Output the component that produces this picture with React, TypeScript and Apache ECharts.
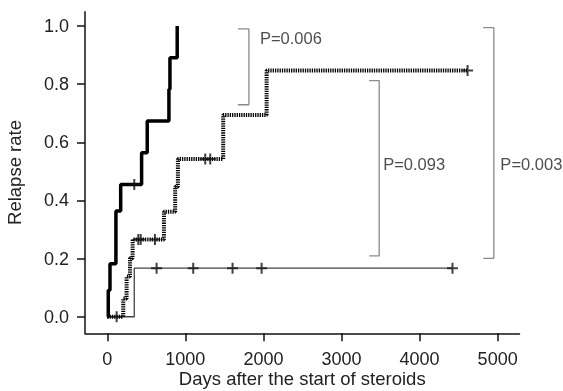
import React, { useEffect, useRef } from "react";
import * as echarts from "echarts";

// Group A (thick solid line)
const thickTimes = [0, 13, 35, 111, 172, 440, 512, 790, 803, 896];
const thickRates = [0, 0.091, 0.182, 0.364, 0.455, 0.564, 0.673, 0.782, 0.891, 1.0];
const thickCensorTimes = [346];
const thickCensorRates = [0.455];

// Group B (dotted line)
const dotTimes = [0, 205, 248, 291, 325, 726, 870, 905, 1485, 2041, 4615];
const dotRates = [0, 0.063, 0.138, 0.201, 0.266, 0.361, 0.447, 0.542, 0.694, 0.847, 0.847];
const dotCensorTimes = [120, 397, 428, 611, 1255, 1319, 4615];
const dotCensorRates = [0, 0.266, 0.266, 0.266, 0.542, 0.542, 0.847];

// Group C (thin line)
const thinTimes = [0, 346, 4422];
const thinRates = [0, 0.167, 0.167];
const thinCensorTimes = [632, 1101, 1605, 1977, 4422];
const thinCensorRates = [0.167, 0.167, 0.167, 0.167, 0.167];

// Axis ticks
const xTicks = [0, 1000, 2000, 3000, 4000, 5000];
const yTicks = [0, 0.2, 0.4, 0.6, 0.8, 1.0];

// Comparison brackets (data coordinates) and p-value labels
const bracketX = [1814, 3483, 4951];
const bracketLeftX = [1673, 3355, 4814];
const bracketTop = [0.99, 0.812, 0.994];
const bracketBottom = [0.729, 0.209, 0.201];
const pLabels = ["P=0.006", "P=0.093", "P=0.003"];
const pLabelX = [1955, 3534, 5035];
const pLabelY = [0.96, 0.526, 0.526];

const FONT = "'Liberation Sans', Arial, Helvetica, sans-serif";
const PLUS = "path://M4.5,0H6.5V4.5H11V6.5H6.5V11H4.5V6.5H0V4.5H4.5Z";

const zip = (a: number[], b: number[]) => a.map((v, i) => [v, b[i]]);

export default function App() {
  const ref = useRef<HTMLDivElement>(null);
  useEffect(() => {
    if (!ref.current) return;
    const chart = echarts.init(ref.current, undefined, { renderer: "svg" });
    const brackets = bracketX.map((bx, i) => ({
      type: "line",
      data: [
        [bracketLeftX[i], bracketTop[i]],
        [bx, bracketTop[i]],
        [bx, bracketBottom[i]],
        [bracketLeftX[i], bracketBottom[i]],
      ],
      symbol: "none",
      lineStyle: { color: "#8a8a8a", width: 1.3 },
      silent: true,
      z: 1,
    }));
    const censor = (t: number[], r: number[]) => ({
      type: "scatter",
      data: zip(t, r),
      symbol: PLUS,
      symbolSize: 11,
      itemStyle: { color: "#111" },
      z: 5,
    });
    chart.setOption({
      animation: false,
      grid: {
        left: 85,
        right: 43.5,
        top: 11.7,
        bottom: 57.7,
        containLabel: false,
        outerBoundsMode: "none",
      },
      xAxis: {
        type: "value",
        min: -285,
        max: 5280,
        name: "Days after the start of steroids",
        nameLocation: "middle",
        nameGap: 35,
        nameMoveOverlap: false,
        nameTextStyle: { fontFamily: FONT, fontSize: 18.5, lineHeight: 20, color: "#222" },
        axisLine: { show: true, onZero: false, lineStyle: { color: "#111", width: 1.5 } },
        axisTick: { show: true, length: 8, customValues: xTicks, lineStyle: { color: "#111", width: 1.5 } },
        axisLabel: {
          customValues: xTicks,
          margin: 17,
          fontFamily: FONT,
          fontSize: 18,
          color: "#222",
          formatter: (v: number) => String(v),
        },
        splitLine: { show: false },
      },
      yAxis: {
        type: "value",
        min: -0.057,
        max: 1.049,
        name: "Relapse rate",
        nameLocation: "middle",
        nameGap: 61,
        nameTextStyle: { fontFamily: FONT, fontSize: 18.5, color: "#222" },
        axisLine: { show: true, onZero: false, lineStyle: { color: "#111", width: 1.5 } },
        axisTick: { show: true, length: 8, customValues: yTicks, lineStyle: { color: "#111", width: 1.5 } },
        axisLabel: {
          customValues: yTicks,
          margin: 16,
          fontFamily: FONT,
          fontSize: 18,
          color: "#222",
          formatter: (v: number) => v.toFixed(1),
        },
        splitLine: { show: false },
      },
      series: [
        ...brackets,
        {
          type: "line",
          data: zip(thinTimes, thinRates),
          step: "end",
          symbol: "none",
          lineStyle: { color: "#444", width: 1.3 },
          z: 2,
        },
        {
          type: "line",
          data: zip(dotTimes, dotRates),
          step: "end",
          symbol: "none",
          lineStyle: { color: "#000", width: 4, type: [1.3, 1] },
          z: 3,
        },
        {
          type: "line",
          data: zip(thickTimes, thickRates),
          step: "end",
          symbol: "none",
          lineStyle: { color: "#000", width: 3.5 },
          z: 4,
        },
        censor(thickCensorTimes, thickCensorRates),
        censor(dotCensorTimes, dotCensorRates),
        censor(thinCensorTimes, thinCensorRates),
        {
          type: "scatter",
          data: pLabels.map((t, i) => ({ value: [pLabelX[i], pLabelY[i]], name: t })),
          symbolSize: 0,
          silent: true,
          label: {
            show: true,
            position: "right",
            distance: 0,
            formatter: (p: any) => p.name,
            fontFamily: FONT,
            fontSize: 16.5,
            color: "#222",
          },
          z: 6,
        },
      ],
    });
    return () => chart.dispose();
  }, []);
  return (
    <div
      ref={ref}
      style={{ position: "fixed", left: 0, top: 0, width: 563, height: 391 }}
    />
  );
}
